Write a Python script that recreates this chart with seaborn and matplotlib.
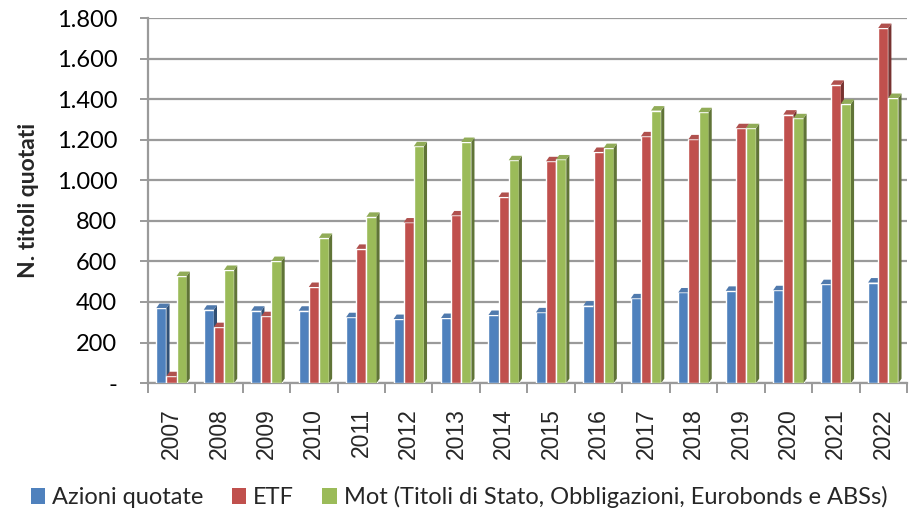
import matplotlib
matplotlib.use("Agg")
import matplotlib.pyplot as plt
import seaborn as sns
import pandas as pd
from matplotlib.ticker import FuncFormatter, FixedLocator
from matplotlib.patches import Patch, Polygon
import matplotlib.colors as mcolors

years = ["2007", "2008", "2009", "2010", "2011", "2012", "2013", "2014",
         "2015", "2016", "2017", "2018", "2019", "2020", "2021", "2022"]
azioni = [370, 362, 357, 357, 325, 316, 321, 336, 349, 382, 418, 447, 455, 458, 488, 496]
etf = [34, 276, 330, 474, 662, 792, 827, 918, 1094, 1140, 1217, 1202, 1257, 1324, 1471, 1751]
mot = [528, 558, 602, 716, 820, 1168, 1189, 1099, 1103, 1159, 1344, 1336, 1257, 1306, 1377, 1406]
series_names = ["Azioni quotate", "ETF", "Mot (Titoli di Stato, Obbligazioni, Eurobonds e ABSs)"]
colors = ["#4F81BD", "#C0504D", "#9BBB59"]

df = pd.DataFrame({
    "anno": years * 3,
    "serie": [series_names[0]] * len(years) + [series_names[1]] * len(years) + [series_names[2]] * len(years),
    "valore": azioni + etf + mot,
})

sns.set_theme(style="white")
plt.rcParams["font.family"] = ["Lato", "DejaVu Sans"]

fig = plt.figure(figsize=(9.18, 5.17), dpi=100)
ax = fig.add_axes([0.161, 0.259, 0.827, 0.706])

sns.barplot(data=df, x="anno", y="valore", hue="serie", palette=colors,
            width=0.64, ax=ax, legend=False, saturation=1, zorder=3)

# simple 3D look: side and top faces derived from the drawn bars
dx, dy = 0.065, 22
for p in list(ax.patches):
    x0 = p.get_x()
    w = p.get_width()
    h = p.get_height()
    x1 = x0 + w
    base = mcolors.to_rgb(p.get_facecolor())
    dark = tuple(c * 0.62 for c in base)
    light = tuple(min(1, c * 0.85 + 0.05) for c in base)
    z = 3 + x0 * 0.01
    p.set_zorder(z)
    side = Polygon([(x1, 0), (x1 + dx, dy), (x1 + dx, h + dy), (x1, h)],
                   closed=True, facecolor=dark, edgecolor="none", zorder=z)
    top = Polygon([(x0, h), (x0 + dx, h + dy), (x1 + dx, h + dy), (x1, h)],
                  closed=True, facecolor=light, edgecolor="none", zorder=z)
    ax.add_patch(side)
    ax.add_patch(top)

ax.set_ylim(0, 1800)
ax.set_xlim(-0.5, len(years) - 0.5)
ax.yaxis.set_major_locator(FixedLocator(range(0, 1801, 200)))

def fmt(v, pos):
    if v == 0:
        return "-"
    return f"{int(v):,}".replace(",", ".")

ax.yaxis.set_major_formatter(FuncFormatter(fmt))
ax.grid(axis="y", color="#9a9a9a", linewidth=1.6, zorder=0)
ax.set_axisbelow(True)

for s in ["top", "right"]:
    ax.spines[s].set_visible(False)
ax.spines["left"].set_color("#9a9a9a")
ax.spines["left"].set_linewidth(1.6)
ax.spines["bottom"].set_color("#9a9a9a")
ax.spines["bottom"].set_linewidth(1.6)

ax.tick_params(axis="y", left=True, length=6, width=1.4, color="#9a9a9a",
               labelsize=17, labelcolor="black", pad=16)
ax.set_xticks(range(len(years)))
ax.set_xticklabels(years, rotation=90, fontsize=16.5, family=["Liberation Sans", "DejaVu Sans"])
ax.tick_params(axis="x", bottom=False, pad=12)
ax.set_xticks([i - 0.5 for i in range(len(years) + 1)], minor=True)
ax.tick_params(axis="x", which="minor", bottom=True, length=7, width=1.4, color="#9a9a9a")

ax.set_xlabel("")
ax.set_ylabel("N. titoli quotati", fontsize=16.5, fontweight="bold", labelpad=13)

handles = [Patch(facecolor=c, edgecolor="none") for c in colors]
fig.legend(handles, series_names, loc="center", bbox_to_anchor=(0.5, 0.038), ncol=3,
           frameon=False, fontsize=17, handlelength=0.6, handleheight=0.7,
           handletextpad=0.3, columnspacing=1.2)

fig.savefig("out.png", dpi=100)
